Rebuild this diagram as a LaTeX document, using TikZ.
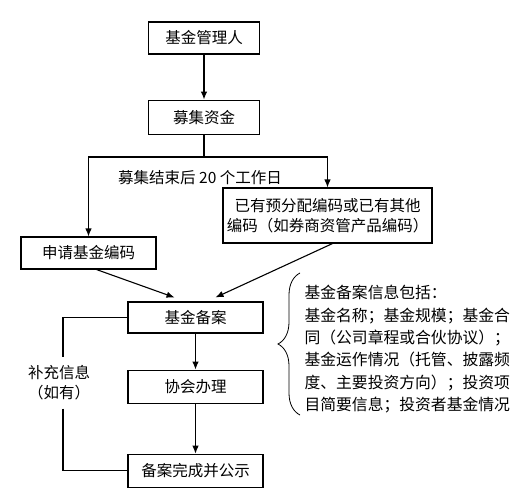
\documentclass[tikz,border=0pt]{standalone}
\usepackage{fontspec}
\setmainfont{Noto Sans CJK SC}
\usepackage{tikz}
\tikzstyle{stage}=[rectangle,draw=black,line width=1.1pt,minimum width=135pt,
minimum height=32pt,inner sep=2pt]
\usetikzlibrary{arrows,arrows.meta,positioning,decorations.pathreplacing}

\begin{document}
\begin{tikzpicture}[x=1pt,y=-1pt,node distance=36pt,>={Latex[length=8pt,width=6.5pt]},
	line width=1.1pt,font=\fontsize{15.5}{20}\selectfont]
		\tikzstyle{top stage}=[stage,minimum width=111pt]
  \tikzstyle{wide stage}=[stage,align=center,minimum width=209pt,minimum height=55pt]
  \tikzstyle{note}=[align=center,fill=white,inner sep=0pt,minimum height=50pt]

  		\useasboundingbox (0,0) rectangle (519,500);

  		\node[top stage] (manager) at (204,38) {基金管理人};
  		\node[top stage,minimum height=34pt,below=45pt of manager] (raise) {募集资金};
  		\path[->] (manager) edge node {} (raise);
  		\coordinate (split) at (204,157);
  		\draw (raise) -- (split);
  		\node (window) at (200,178) {募集结束后 20 个工作日};
  		\node[stage] (apply) at (88.5,253) {申请基金编码};
  		\node[wide stage] (code) at (327.5,215.5) {已有预分配编码或已有其他\\编码（如券商资管产品编码）};
  		\draw[->] (split) -| (apply);
  		\draw[->] (split) -| (code);
  		\node[stage,minimum height=31pt] (filing) at (195.5,317.5) {基金备案};
  		\draw[->] ([xshift=8pt]apply.south) -- ([xshift=-21pt,yshift=4pt]filing.north);
  		\draw[->] ([xshift=5pt]code.south) -- ([xshift=20pt,yshift=4pt]filing.north);
  		\node[stage,minimum height=33pt,below=of filing] (assoc) {协会办理};
  		\path[->] (filing) edge node {} (assoc);
  		\node[stage,minimum height=33pt,below=50pt of assoc] (public) {备案完成并公示};
  		\path[->] (assoc) edge node {} (public);
  		\node[note] (extra) at (59,383) {补充信息\\（如有）};
  		\draw (filing.west) -| ([xshift=4pt]extra.north);
  		\draw ([xshift=4pt]extra.south) |- (public.west);
  		\draw[line width=0.8pt,decorate,decoration={brace,amplitude=22pt}] (300,415) -- (300,273);
  		\node[anchor=north west,align=left,inner sep=0pt,font=\fontsize{15.8}{22.3}\selectfont] (info) at (304,285)
  		{基金备案信息包括：\\基金名称；基金规模；基金合\\同（公司章程或合伙协议）；\\基金运作情况（托管、披露频\\度、主要投资方向）；投资项\\目简要信息；投资者基金情况};
	\end{tikzpicture}
\end{document}
